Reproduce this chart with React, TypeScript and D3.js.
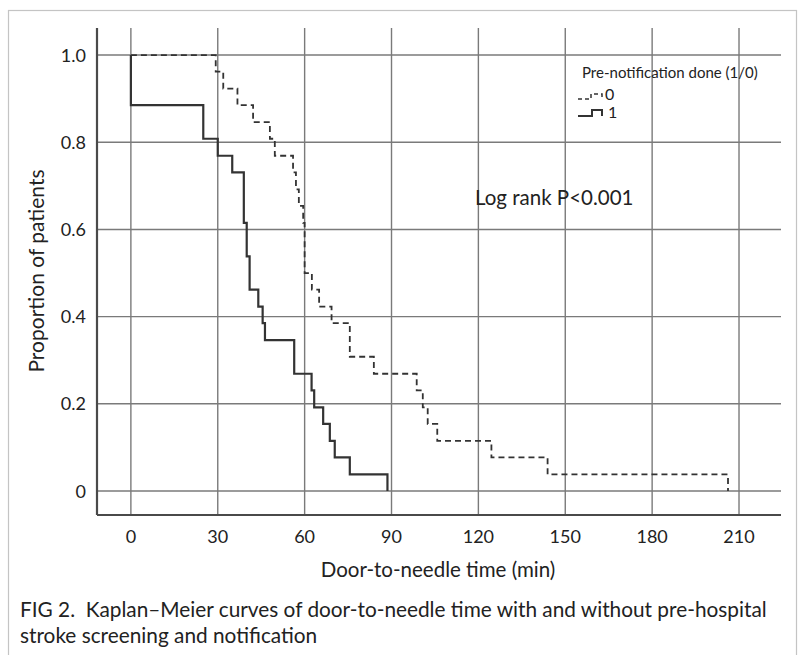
import React from 'react';
import * as d3 from 'd3';

// step points (time in min, proportion still waiting)
const times1 = [0, 0, 25, 30, 35, 39, 40, 41, 44, 45.5, 46.3, 56.4, 62.4, 63.3, 66.4, 68.7, 70.4, 75.6, 88.6];
const surv1 = [1, 0.885, 0.808, 0.769, 0.731, 0.615, 0.538, 0.462, 0.423, 0.385, 0.346, 0.269, 0.231, 0.192, 0.154, 0.115, 0.077, 0.038, 0];

const times0 = [0, 29.3, 31.9, 36.8, 42.2, 48, 49.7, 56, 57, 58, 59.5, 60, 62.5, 65, 69.3, 75.6, 83.9, 98.7, 100.8, 102.5, 105.8, 124.5, 143.9, 206.2];
const surv0 = [1, 0.962, 0.923, 0.885, 0.846, 0.808, 0.769, 0.731, 0.692, 0.654, 0.615, 0.5, 0.462, 0.423, 0.385, 0.308, 0.269, 0.231, 0.192, 0.154, 0.115, 0.077, 0.038, 0];

const xTicks = [0, 30, 60, 90, 120, 150, 180, 210];
const yTicks = [0, 0.2, 0.4, 0.6, 0.8, 1.0];
const yTickLabels = ['0', '0.2', '0.4', '0.6', '0.8', '1.0'];

const font = 'Lato, "Open Sans", sans-serif';
const ink = '#222';

export default function App() {
  const x = d3.scaleLinear().domain([-11.7, 224.5]).range([97, 781]);
  const y = d3.scaleLinear().domain([-0.055, 1.062]).range([515, 28]);

  const line = d3.line<[number, number]>()
    .x(d => x(d[0]))
    .y(d => y(d[1]))
    .curve(d3.curveStepAfter);

  const pts1 = times1.map((t, i) => [t, surv1[i]] as [number, number]);
  const pts0 = times0.map((t, i) => [t, surv0[i]] as [number, number]);

  const [x0, x1] = x.range();
  const [y0, y1] = y.range();

  return (
    <div style={{ position: 'absolute', left: 0, top: 0 }}>
      <svg width={803} height={655} style={{ display: 'block', background: '#fff' }}>
        {/* figure frame */}
        <rect x={8.5} y={10.5} width={788} height={660} fill="none" stroke="#c4c4c4" strokeWidth={1.2} />

        {/* grid */}
        {xTicks.map(t => (
          <line key={'gx' + t} x1={x(t)} x2={x(t)} y1={y1} y2={y0} stroke="#7a7a7a" strokeWidth={1.4} />
        ))}
        {yTicks.map(t => (
          <line key={'gy' + t} x1={x0} x2={x1} y1={y(t)} y2={y(t)} stroke="#7a7a7a" strokeWidth={1.4} />
        ))}

        {/* axes */}
        <line x1={x0} x2={x0} y1={y1} y2={y0} stroke="#4a4a4a" strokeWidth={2.2} />
        <line x1={x0} x2={x1} y1={y0} y2={y0} stroke="#4a4a4a" strokeWidth={2.2} />

        {/* tick labels */}
        {xTicks.map(t => (
          <text key={'tx' + t} x={x(t)} y={543} textAnchor="middle" fontFamily={font} fontSize={18} fill={ink}>
            {t}
          </text>
        ))}
        {yTicks.map((t, i) => (
          <text key={'ty' + t} x={86} y={y(t) + 6.5} textAnchor="end" fontFamily={font} fontSize={18} fill={ink}>
            {yTickLabels[i]}
          </text>
        ))}

        {/* curves */}
        <path d={line(pts0) || ''} fill="none" stroke="#333" strokeWidth={1.8} strokeDasharray="6,4" />
        <path d={line(pts1) || ''} fill="none" stroke="#333" strokeWidth={2.2} />

        {/* legend */}
        <text x={582} y={78} fontFamily={font} fontSize={15} fill={ink}>Pre-notification done (1/0)</text>
        <path d="M578,99 H591 V94 H602 V98" fill="none" stroke="#333" strokeWidth={1.5} strokeDasharray="4,3" />
        <text x={605} y={100} fontFamily={font} fontSize={16} fill={ink}>0</text>
        <path d="M578,116 H592 V110 H602 V116" fill="none" stroke="#333" strokeWidth={2} />
        <text x={608} y={118} fontFamily={font} fontSize={16} fill={ink}>1</text>

        <text x={475} y={205} fontFamily={font} fontSize={20.5} fill={ink}>Log rank P&lt;0.001</text>

        {/* axis titles */}
        <text x={438} y={577} textAnchor="middle" fontFamily={font} fontSize={20.5} fill={ink}>Door-to-needle time (min)</text>
        <text transform="translate(44,271) rotate(-90)" textAnchor="middle" fontFamily={font} fontSize={21} fill={ink}>
          Proportion of patients
        </text>

        {/* caption */}
        <text x={20} y={617} fontFamily={font} fontSize={20.8} fill={ink}>
          FIG 2.{'\u00a0\u00a0'}Kaplan–Meier curves of door-to-needle time with and without pre-hospital
        </text>
        <text x={20} y={643} fontFamily={font} fontSize={20.8} fill={ink}>stroke screening and notification</text>
      </svg>
    </div>
  );
}
